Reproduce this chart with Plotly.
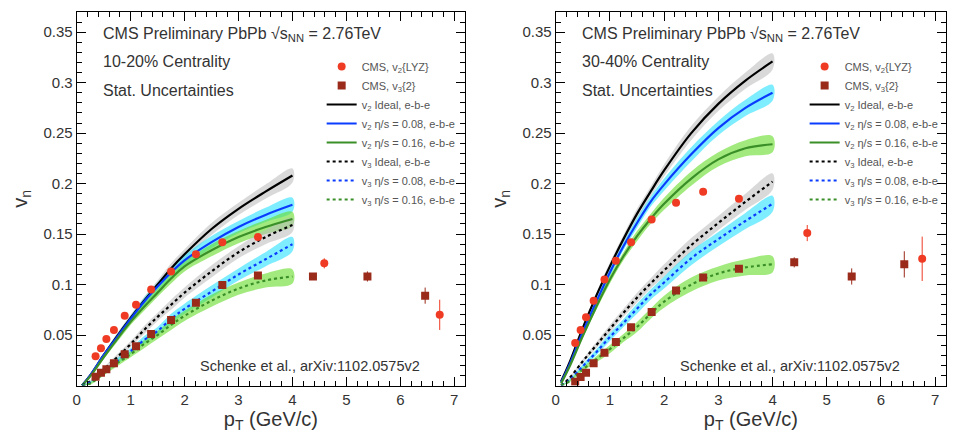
import plotly.graph_objects as go

# ---------------- data ----------------
pt_model = [0.1, 0.25, 0.5, 0.75, 1.0, 1.25, 1.5, 1.75, 2.0, 2.5, 3.0, 3.5, 4.0]

# 10-20% centrality (left)
v2_ideal_L = [0, 0.010, 0.030, 0.049, 0.067, 0.084, 0.100, 0.116, 0.130, 0.155, 0.175, 0.192, 0.208]
v2_008_L = [0, 0.010, 0.030, 0.048, 0.066, 0.083, 0.098, 0.112, 0.124, 0.142, 0.157, 0.169, 0.179]
v2_016_L = [0, 0.009, 0.028, 0.046, 0.063, 0.078, 0.092, 0.106, 0.118, 0.134, 0.147, 0.157, 0.165]
v3_ideal_L = [0, 0.004, 0.016, 0.028, 0.041, 0.055, 0.068, 0.080, 0.092, 0.113, 0.132, 0.147, 0.159]
v3_008_L = [0, 0.003, 0.013, 0.024, 0.034, 0.045, 0.054, 0.066, 0.076, 0.093, 0.110, 0.125, 0.140]
v3_016_L = [0, 0.002, 0.012, 0.022, 0.031, 0.041, 0.050, 0.060, 0.069, 0.084, 0.096, 0.104, 0.108]
band_err_L = [0, 0.001, 0.002, 0.003, 0.003, 0.004, 0.004, 0.005, 0.005, 0.006, 0.006, 0.007, 0.007]

pt_v2_L = [0.35, 0.45, 0.55, 0.69, 0.89, 1.10, 1.38, 1.75, 2.21, 2.70, 3.36, 4.59, 6.73]
v2_L = [0.029, 0.037, 0.046, 0.055, 0.069, 0.080, 0.095, 0.113, 0.130, 0.142, 0.147, 0.121, 0.070]
v2_err_L = [0, 0, 0, 0, 0, 0, 0, 0, 0.001, 0.001, 0.002, 0.005, 0.015]
pt_v3_L = [0.35, 0.45, 0.55, 0.69, 0.89, 1.10, 1.38, 1.75, 2.21, 2.70, 3.36, 4.38, 5.39, 6.46]
v3_L = [0.0087, 0.0127, 0.016, 0.022, 0.031, 0.039, 0.051, 0.065, 0.082, 0.0995, 0.109, 0.108, 0.108, 0.089]
v3_err_L = [0, 0, 0, 0, 0, 0, 0, 0, 0.001, 0.001, 0.002, 0.002, 0.005, 0.008]

# 30-40% centrality (right)
v2_ideal_R = [0.004, 0.022, 0.057, 0.089, 0.118, 0.145, 0.170, 0.192, 0.213, 0.250, 0.279, 0.302, 0.321]
v2_008_R = [0.003, 0.020, 0.053, 0.083, 0.112, 0.138, 0.161, 0.182, 0.199, 0.229, 0.255, 0.275, 0.290]
v2_016_R = [0.002, 0.018, 0.049, 0.078, 0.105, 0.128, 0.148, 0.165, 0.180, 0.205, 0.224, 0.235, 0.239]
v3_ideal_R = [0, 0.007, 0.024, 0.040, 0.056, 0.072, 0.087, 0.101, 0.114, 0.139, 0.161, 0.182, 0.202]
v3_008_R = [0, 0.005, 0.019, 0.033, 0.048, 0.062, 0.076, 0.090, 0.102, 0.126, 0.145, 0.163, 0.180]
v3_016_R = [0, 0.004, 0.016, 0.026, 0.036, 0.047, 0.058, 0.071, 0.083, 0.100, 0.111, 0.117, 0.120]
band_err_R = [0, 0.001, 0.002, 0.003, 0.004, 0.004, 0.005, 0.005, 0.006, 0.007, 0.007, 0.008, 0.008]

pt_v2_R = [0.36, 0.46, 0.56, 0.70, 0.90, 1.11, 1.39, 1.77, 2.22, 2.72, 3.38, 4.64, 6.76]
v2_R = [0.042, 0.055, 0.0675, 0.084, 0.105, 0.1235, 0.142, 0.1645, 0.181, 0.192, 0.185, 0.151, 0.1255]
v2_err_R = [0, 0, 0, 0, 0, 0, 0, 0, 0.001, 0.001, 0.002, 0.008, 0.022]
pt_v3_R = [0.36, 0.46, 0.56, 0.70, 0.90, 1.11, 1.39, 1.77, 2.22, 2.72, 3.38, 4.40, 5.46, 6.43]
v3_R = [0.0038, 0.0084, 0.0127, 0.022, 0.0325, 0.043, 0.0576, 0.0728, 0.094, 0.107, 0.1157, 0.122, 0.108, 0.120]
v3_err_R = [0, 0, 0, 0, 0, 0, 0, 0, 0.001, 0.001, 0.002, 0.005, 0.008, 0.013]

y_tickvals = [0.05, 0.1, 0.15, 0.2, 0.25, 0.3, 0.35]
y_ticktext = ["0.05", "0.1", "0.15", "0.2", "0.25", "0.3", "0.35"]
x_tickvals = [0, 1, 2, 3, 4, 5, 6, 7]

model_names = [
    "v<sub>2</sub> Ideal, e-b-e",
    "v<sub>2</sub> η/s = 0.08, e-b-e",
    "v<sub>2</sub> η/s = 0.16, e-b-e",
    "v<sub>3</sub> Ideal, e-b-e",
    "v<sub>3</sub> η/s = 0.08, e-b-e",
    "v<sub>3</sub> η/s = 0.16, e-b-e",
]
line_colors = ["#000000", "#0a3cff", "#3a8f28", "#000000", "#0a3cff", "#3a8f28"]
band_colors = ["rgba(185,185,185,0.55)", "rgba(40,225,255,0.6)", "rgba(100,220,40,0.6)",
               "rgba(185,185,185,0.55)", "rgba(40,225,255,0.6)", "rgba(100,220,40,0.6)"]
dashes = ["solid", "solid", "solid", "dot", "dot", "dot"]

FONT = "Liberation Sans, Arial, sans-serif"
RED = "#ef3b24"
DARKRED = "#9a2a1a"

fig = go.Figure()

panels = [
    ("x", "y", "legend", [v2_ideal_L, v2_008_L, v2_016_L, v3_ideal_L, v3_008_L, v3_016_L], band_err_L,
     pt_v2_L, v2_L, v2_err_L, pt_v3_L, v3_L, v3_err_L),
    ("x2", "y2", "legend2", [v2_ideal_R, v2_008_R, v2_016_R, v3_ideal_R, v3_008_R, v3_016_R], band_err_R,
     pt_v2_R, v2_R, v2_err_R, pt_v3_R, v3_R, v3_err_R),
]

for xa, ya, leg, curves, berr, px2, py2, pe2, px3, py3, pe3 in panels:
    for i, c in enumerate(curves):
        up = [v + e for v, e in zip(c, berr)]
        lo = [max(v - e, 0) for v, e in zip(c, berr)]
        fig.add_trace(go.Scatter(
            x=pt_model + pt_model[::-1], y=up + lo[::-1], fill="toself",
            fillcolor=band_colors[i], line=dict(width=0, shape="spline"),
            mode="lines", hoverinfo="skip", showlegend=False, xaxis=xa, yaxis=ya))
    for i, c in enumerate(curves):
        fig.add_trace(go.Scatter(
            x=pt_model, y=c, mode="lines", name=model_names[i],
            line=dict(color=line_colors[i], width=2.2, dash=dashes[i], shape="spline"),
            legend=leg, legendrank=10 + i, xaxis=xa, yaxis=ya))
    fig.add_trace(go.Scatter(
        x=px3, y=py3, mode="markers", name="CMS, v<sub>3</sub>{2}",
        marker=dict(symbol="square", size=8, color=DARKRED),
        error_y=dict(type="data", array=pe3, color=DARKRED, thickness=1, width=0),
        legend=leg, legendrank=2, xaxis=xa, yaxis=ya))
    fig.add_trace(go.Scatter(
        x=px2, y=py2, mode="markers", name="CMS, v<sub>2</sub>{LYZ}",
        marker=dict(symbol="circle", size=8, color=RED),
        error_y=dict(type="data", array=pe2, color=RED, thickness=1, width=0),
        legend=leg, legendrank=1, xaxis=xa, yaxis=ya))

W, H = 955, 442
def fx(p):
    return p / W
def fy(p):
    return 1 - p / H

axis_common = dict(
    showline=True, linecolor="black", linewidth=1, mirror="allticks",
    ticks="inside", ticklen=9, tickcolor="black", tickwidth=1,
    showgrid=False, zeroline=False,
    tickfont=dict(family=FONT, size=15, color="#333"),
)
xcommon = dict(axis_common, range=[0, 7.2], tickvals=x_tickvals,
               minor=dict(ticks="inside", ticklen=5, dtick=0.2, tick0=0, tickcolor="black"),
               title=dict(text="p<sub>T</sub> (GeV/c)", font=dict(family=FONT, size=20, color="#333"), standoff=5))
ycommon = dict(axis_common, range=[0, 0.37], tickvals=y_tickvals, ticktext=y_ticktext,
               minor=dict(ticks="inside", ticklen=5, dtick=0.01, tick0=0, tickcolor="black"),
               title=dict(text="v<sub>n</sub>", font=dict(family=FONT, size=20, color="#333"), standoff=10))

ydom = [fy(385.5), fy(12)]
fig.update_layout(
    width=W, height=H, autosize=False,
    margin=dict(l=0, r=0, t=0, b=0),
    paper_bgcolor="white", plot_bgcolor="white",
    font=dict(family=FONT, color="#333"),
    xaxis=dict(xcommon, domain=[fx(73), fx(463)], anchor="y"),
    yaxis=dict(ycommon, domain=ydom, anchor="x"),
    xaxis2=dict(xcommon, domain=[fx(554), fx(946)], anchor="y2"),
    yaxis2=dict(ycommon, domain=ydom, anchor="x2"),
    legend=dict(x=fx(319), y=fy(52), xanchor="left", yanchor="top", bgcolor="rgba(0,0,0,0)",
                font=dict(family=FONT, size=11, color="#555"), tracegroupgap=0, itemwidth=30),
    legend2=dict(x=fx(804), y=fy(52), xanchor="left", yanchor="top", bgcolor="rgba(0,0,0,0)",
                 font=dict(family=FONT, size=11, color="#555"), tracegroupgap=0, itemwidth=30),
    showlegend=True,
)

texts = [
    (97, 35, "CMS Preliminary PbPb √s<sub>NN</sub> = 2.76TeV", 16),
    (97, 62, "10-20% Centrality", 16),
    (97, 91, "Stat. Uncertainties", 16),
    (578, 35, "CMS Preliminary PbPb √s<sub>NN</sub> = 2.76TeV", 16),
    (578, 62, "30-40% Centrality", 16),
    (578, 91, "Stat. Uncertainties", 16),
    (195, 366, "Schenke et al., arXiv:1102.0575v2", 14.5),
    (677, 366, "Schenke et al., arXiv:1102.0575v2", 14.5),
]
for x0, y0, t, s in texts:
    fig.add_annotation(x=fx(x0), y=fy(y0), xref="paper", yref="paper", text=t, showarrow=False,
                       xanchor="left", yanchor="middle", font=dict(family=FONT, size=s, color="#333"))

fig.write_html("out.html")
